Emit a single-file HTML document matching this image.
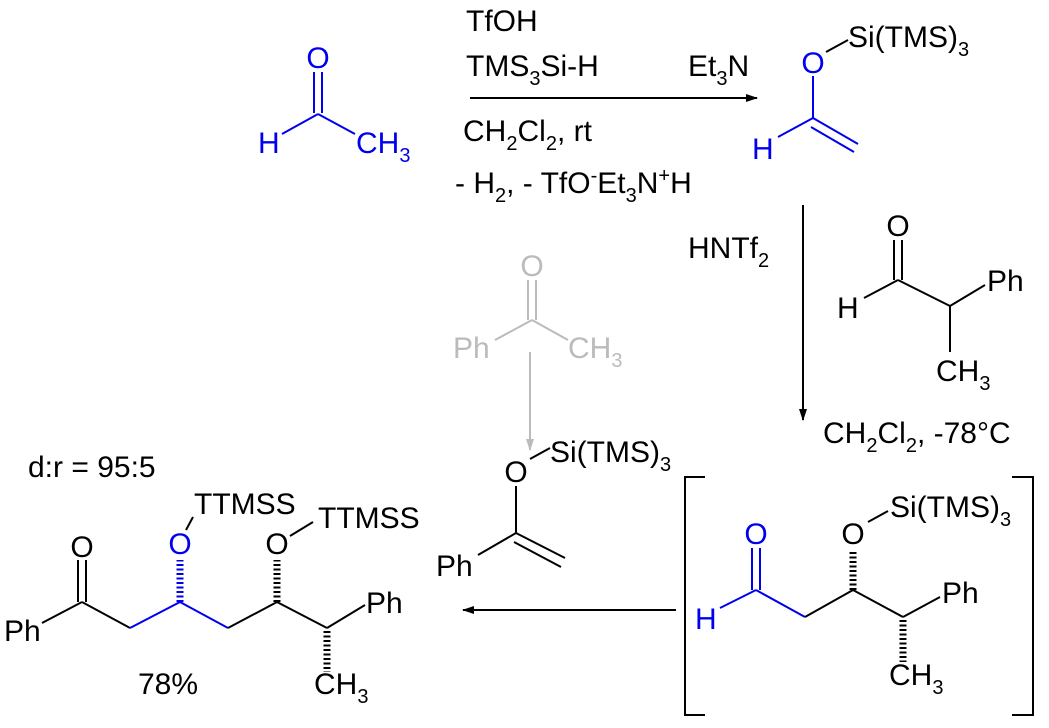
<!DOCTYPE html>
<html><head><meta charset="utf-8"><style>
html,body{margin:0;padding:0;background:#fff;}
svg{display:block;font-family:"Liberation Sans",Arial,sans-serif;font-size:30px;}
</style></head><body>
<svg width="1049" height="728" viewBox="0 0 1049 728" xmlns="http://www.w3.org/2000/svg">
<defs>
<marker id="ah" markerWidth="12" markerHeight="8" refX="11" refY="4" orient="auto" markerUnits="userSpaceOnUse"><path d="M0,0 L12,4 L0,8 Z" fill="#000"/></marker>
<marker id="ahg" markerWidth="12" markerHeight="8" refX="11" refY="4" orient="auto" markerUnits="userSpaceOnUse"><path d="M0,0 L12,4 L0,8 Z" fill="#bbb"/></marker>
</defs>
<g stroke-width="2" fill="none">
<g stroke="#0000ee">
<line x1="314" y1="72" x2="314" y2="113"/><line x1="322" y1="72" x2="322" y2="113"/>
<line x1="282" y1="134" x2="318" y2="114"/><line x1="318" y1="114" x2="355" y2="134"/>
</g>
<line x1="470" y1="98" x2="757" y2="98" stroke="#000" marker-end="url(#ah)"/>
<g stroke="#0000ee">
<line x1="813" y1="76" x2="813" y2="118"/>
<line x1="778" y1="137" x2="813" y2="118"/>
<line x1="813" y1="118" x2="858" y2="144"/><line x1="811" y1="127" x2="854" y2="152"/>
</g>
<line x1="826" y1="52" x2="848" y2="40" stroke="#000"/>
<line x1="803" y1="205" x2="803" y2="420" stroke="#000" marker-end="url(#ah)"/>
<g stroke="#000">
<line x1="894" y1="240" x2="894" y2="280"/><line x1="902" y1="240" x2="902" y2="280"/>
<line x1="864" y1="298" x2="898" y2="280"/><line x1="898" y1="280" x2="950" y2="306"/>
<line x1="950" y1="306" x2="985" y2="285"/><line x1="950" y1="306" x2="950" y2="352"/>
</g>
<g stroke="#bbb">
<line x1="528" y1="280" x2="528" y2="320"/><line x1="536" y1="280" x2="536" y2="320"/>
<line x1="495" y1="340" x2="532" y2="320"/><line x1="532" y1="320" x2="568" y2="340"/>
<line x1="530" y1="352" x2="530" y2="450" marker-end="url(#ahg)"/>
</g>
<g stroke="#000">
<line x1="516" y1="486" x2="516" y2="533"/>
<line x1="478" y1="555" x2="516" y2="533"/>
<line x1="516" y1="533" x2="565" y2="558"/><line x1="514" y1="542" x2="561" y2="567"/>
<line x1="530" y1="459" x2="550" y2="448"/>
</g>
<line x1="676" y1="610" x2="463" y2="610" stroke="#000" marker-end="url(#ah)"/>
<g stroke="#000">
<polyline points="705,477 685,477 685,715 705,715"/>
<polyline points="1012,477 1033,477 1033,715 1012,715"/>
</g>
<g stroke="#0000ee">
<line x1="752" y1="548" x2="752" y2="590"/><line x1="760" y1="548" x2="760" y2="590"/>
<line x1="720" y1="608" x2="756" y2="590"/><line x1="756" y1="590" x2="805" y2="617"/>
</g>
<g stroke="#000">
<line x1="805" y1="617" x2="853" y2="590"/><line x1="853" y1="590" x2="903" y2="617"/>
<line x1="903" y1="617" x2="940" y2="597"/>
<line x1="868" y1="522" x2="888" y2="511"/>
<line x1="853" y1="590" x2="853" y2="550" stroke-width="7" stroke-dasharray="2,2.5"/>
<line x1="903" y1="620" x2="903" y2="662" stroke-width="7" stroke-dasharray="2,2.5"/>
</g>
<g stroke="#000">
<line x1="78" y1="560" x2="78" y2="602"/><line x1="86" y1="560" x2="86" y2="602"/>
<line x1="42" y1="623" x2="82" y2="602"/><line x1="82" y1="602" x2="130" y2="628"/>
<line x1="228" y1="628" x2="277" y2="602"/><line x1="277" y1="602" x2="327" y2="628"/>
<line x1="327" y1="628" x2="365" y2="605"/>
<line x1="290" y1="536" x2="313" y2="522"/>
<line x1="277" y1="602" x2="277" y2="560" stroke-width="7" stroke-dasharray="2,2.5"/>
<line x1="327" y1="631" x2="327" y2="672" stroke-width="7" stroke-dasharray="2,2.5"/>
</g>
<g stroke="#0000ee">
<line x1="130" y1="628" x2="180" y2="602"/><line x1="180" y1="602" x2="228" y2="628"/>
<line x1="180" y1="602" x2="180" y2="560" stroke-width="7" stroke-dasharray="2,2.5"/>
</g>
<line x1="186" y1="530" x2="193" y2="517" stroke="#000"/>
</g>

<g fill="#0000ee" text-anchor="middle">
<text x="318" y="68">O</text>
<text x="813" y="73">O</text>
<text x="756" y="544">O</text>
<text x="180" y="554">O</text>
</g>
<g fill="#0000ee">
<text x="258" y="153">H</text>
<text x="356" y="153">CH<tspan font-size="20" dy="9">3</tspan></text>
<text x="752" y="159">H</text>
<text x="695" y="629">H</text>
</g>
<g fill="#000">
<text x="466" y="31">TfOH</text>
<text x="466" y="76">TMS<tspan font-size="20" dy="9">3</tspan><tspan dy="-9">Si-H</tspan></text>
<text x="688" y="76">Et<tspan font-size="20" dy="9">3</tspan><tspan dy="-9">N</tspan></text>
<text x="463" y="141">CH<tspan font-size="20" dy="9">2</tspan><tspan dy="-9">Cl</tspan><tspan font-size="20" dy="9">2</tspan><tspan dy="-9">, rt</tspan></text>
<text x="455" y="193">- H<tspan font-size="20" dy="9">2</tspan><tspan dy="-9">, - TfO</tspan><tspan font-size="20" dy="-11">-</tspan><tspan dy="11">Et</tspan><tspan font-size="20" dy="9">3</tspan><tspan dy="-9">N</tspan><tspan font-size="20" dy="-11">+</tspan><tspan dy="11">H</tspan></text>
<text x="848" y="47">Si(TMS)<tspan font-size="20" dy="9">3</tspan></text>
<text x="688" y="258">HNTf<tspan font-size="20" dy="9">2</tspan></text>
<text x="898" y="236" text-anchor="middle">O</text>
<text x="837" y="318">H</text>
<text x="987" y="291">Ph</text>
<text x="936" y="381">CH<tspan font-size="20" dy="9">3</tspan></text>
<text x="823" y="443">CH<tspan font-size="20" dy="9">2</tspan><tspan dy="-9">Cl</tspan><tspan font-size="20" dy="9">2</tspan><tspan dy="-9">, -78°C</tspan></text>
<text x="550" y="462">Si(TMS)<tspan font-size="20" dy="9">3</tspan></text>
<text x="516" y="482" text-anchor="middle">O</text>
<text x="436" y="576">Ph</text>
<text x="853" y="544" text-anchor="middle">O</text>
<text x="890" y="517">Si(TMS)<tspan font-size="20" dy="9">3</tspan></text>
<text x="942" y="603">Ph</text>
<text x="889" y="685">CH<tspan font-size="20" dy="9">3</tspan></text>
<text x="28" y="477">d:r = 95:5</text>
<text x="82" y="557" text-anchor="middle">O</text>
<text x="277" y="554" text-anchor="middle">O</text>
<text x="194" y="514">TTMSS</text>
<text x="318" y="528">TTMSS</text>
<text x="4" y="641">Ph</text>
<text x="366" y="613">Ph</text>
<text x="314" y="694">CH<tspan font-size="20" dy="9">3</tspan></text>
<text x="138" y="694">78%</text>
</g>
<g fill="#bbb">
<text x="532" y="276" text-anchor="middle">O</text>
<text x="453" y="358">Ph</text>
<text x="568" y="358">CH<tspan font-size="20" dy="9">3</tspan></text>
</g>
</svg>
</body></html>
